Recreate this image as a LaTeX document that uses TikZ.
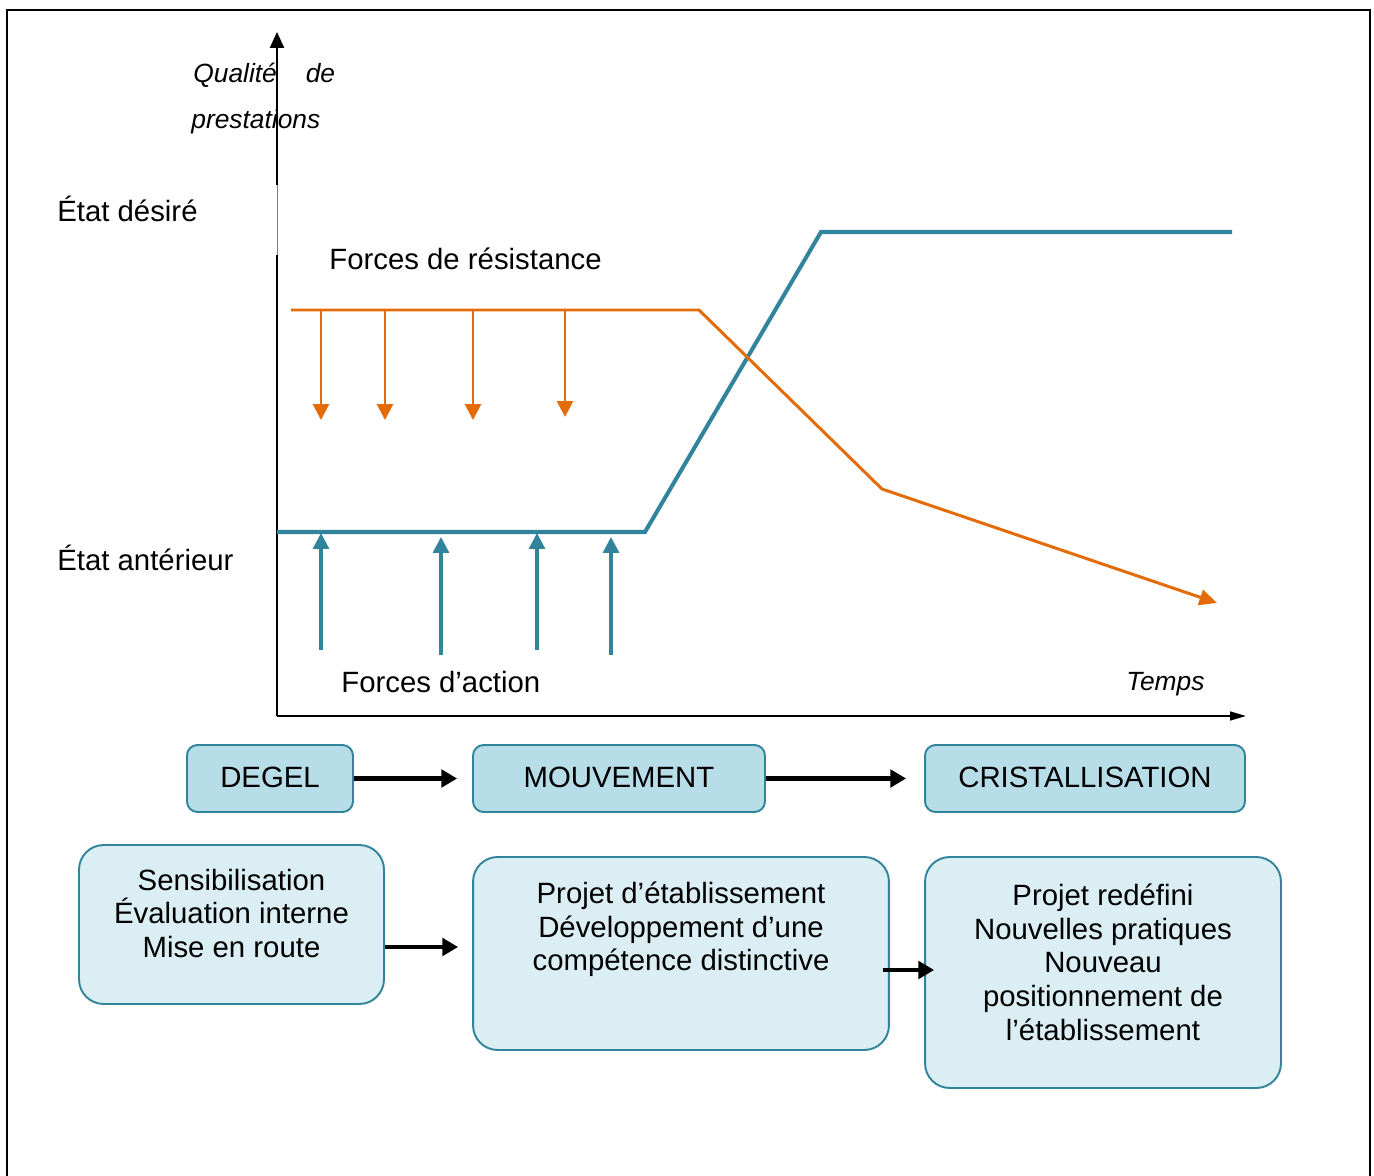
\documentclass[tikz,border=0pt]{standalone}
\usepackage{fontspec}
\setmainfont{Liberation Sans}
\usepackage{xcolor}
\usetikzlibrary{positioning, arrows.meta}
\definecolor{tealline}{HTML}{31849B}
\definecolor{orangeline}{HTML}{E36C09}
\definecolor{phasefill}{HTML}{B7DDE8}
\definecolor{stepfill}{HTML}{DAEEF3}

\tikzset{
  txt/.style={inner sep=0pt, font=\fontsize{16.7}{19.2}\selectfont},
  axislbl/.style={inner sep=0pt, font=\fontsize{15}{18}\selectfont\itshape},
  phasebox/.style={draw=tealline, fill=phasefill, line width=1.1pt, rounded corners=6pt,
    minimum height=1.34cm, txt},
  stepbox/.style={draw=tealline, fill=stepfill, line width=1.1pt, rounded corners=14pt},
  flow/.style={line width=2.8pt, -{Triangle[length=9pt, width=10pt]}},
  resist/.style={orangeline, line width=1.6pt, -{Triangle[length=9pt, width=9pt]}},
  action/.style={tealline, line width=1.8pt, -{Triangle[length=9pt, width=9pt]}},
}

\begin{document}
\begin{tikzpicture}[x=0.02cm, y=-0.02cm]
  \useasboundingbox (0,0) rectangle (1374,1176);

  % frame, open at the bottom
  \draw[line width=1.3pt] (7,1176) -- (7,10) -- (1370,10) -- (1370,1176);

  % axes
  \coordinate (origin) at (277,716);
  \coordinate (ytop) at (277,32);
  \coordinate (xend) at (1246,716);
  \draw[line width=1pt] (origin) -- (277,255);
  \draw[gray, line width=0.4pt] (277,255) -- (277,185);
  \draw[line width=1pt, -{Triangle[length=9pt, width=8pt]}] (277,185) -- (ytop);
  \draw[line width=1pt, -{Triangle[length=9pt, width=5pt]}] (origin) -- (xend);

  \node[axislbl, anchor=base west] (qual) at (193,83) {Qualité\hspace{0.58cm}de};
  \node[axislbl, anchor=base west] (prest) at (191,129) {prestations};
  \node[axislbl, anchor=base west] (temps) at (1126,690) {Temps};

  \node[txt, anchor=base west] (desire) at (57,222) {État désiré};
  \node[txt, anchor=base west] (anterieur) at (57,570) {État antérieur};
  \node[txt, anchor=base west] (resistance) at (329,270) {Forces de résistance};
  \node[txt, anchor=base west] (forceaction) at (341,692) {Forces d’action};

  % curves
  \draw[tealline, line width=2.3pt] (origin |- 0,532) -- (645,532) -- (821,232) -- (1232,232);
  \draw[orangeline, line width=1.7pt, -{Triangle[length=10pt, width=9pt]}]
    (291,310) -- (699,310) -- (882,489) -- (1217,603);

  % forces
  \foreach \x/\e in {321/420, 385/420, 473/420, 565/417}
    \draw[resist] (\x,310) -- (\x,\e);
  \foreach \x/\s/\e in {321/650/533, 441/655/537, 537/650/533, 611/655/537}
    \draw[action] (\x,\s) -- (\x,\e);

  % phases
  \node[phasebox, minimum width=3.32cm] (degel) at (270,778.5) {\raisebox{1.5pt}{DEGEL}};
  \node[phasebox, minimum width=5.84cm] (mouvement) at (619,778.5) {\raisebox{1.5pt}{MOUVEMENT}};
  \node[phasebox, minimum width=6.4cm] (cristal) at (1085,778.5) {\raisebox{1.5pt}{CRISTALLISATION}};
  \draw[flow, shorten >=0.3cm] (degel) -- (mouvement);
  \draw[flow, shorten >=0.36cm] (mouvement) -- (cristal);

  % steps
  \node[stepbox, minimum width=6.1cm, minimum height=3.18cm] (step1) at (231.5,924.5) {};
  \node[stepbox, minimum width=8.32cm, minimum height=3.86cm] (step2) at (681,953.5) {};
  \node[stepbox, minimum width=7.12cm, minimum height=4.62cm] (step3) at (1103,972.5) {};

  \node[txt, align=center, anchor=north] (step1txt) at ([yshift=-0.49cm]step1.north)
    {Sensibilisation\\Évaluation interne\\Mise en route};
  \node[txt, align=center, anchor=north] (step2txt) at ([yshift=-0.51cm]step2.north)
    {Projet d’établissement\\Développement d’une\\compétence distinctive};
  \node[txt, align=center, anchor=north] (step3txt) at ([yshift=-0.55cm]step3.north)
    {Projet redéfini\\Nouvelles pratiques\\Nouveau\\positionnement de\\l’établissement};

  \coordinate (s1out) at ([yshift=-0.45cm]step1.east);
  \draw[flow, shorten >=0.28cm] (s1out) -- (s1out -| step2.west);
  \coordinate (s2out) at ([yshift=-0.33cm, xshift=-0.14cm]step2.east);
  \draw[flow] (s2out) -- ([xshift=0.2cm]s2out -| step3.west);
\end{tikzpicture}
\end{document}
